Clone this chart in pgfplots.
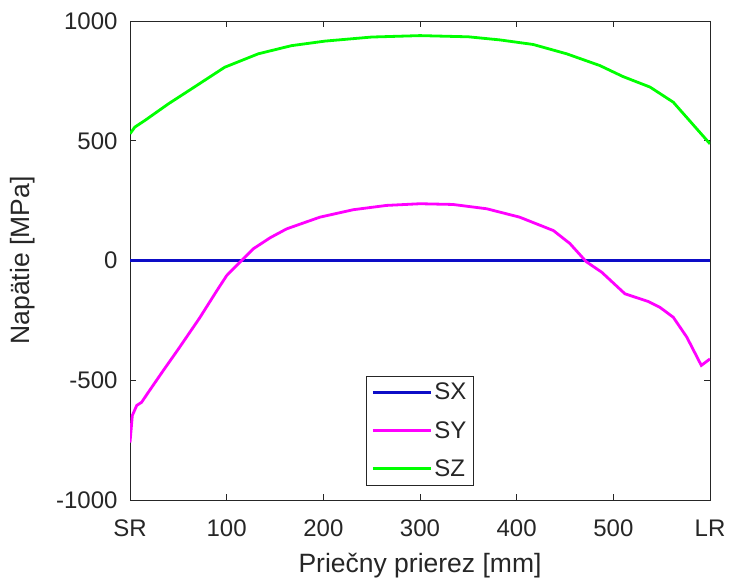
\documentclass[border=0pt]{standalone}
\usepackage{pgfplots}
\pgfplotsset{compat=1.18}
\usepackage{fontspec}
\setmainfont{Liberation Sans}
\definecolor{axgray}{rgb}{0.15,0.15,0.15}
\definecolor{sxblue}{rgb}{0.05,0.05,0.78}
\definecolor{symag}{rgb}{1,0,1}
\definecolor{szgreen}{rgb}{0,1,0}
\newcommand{\legfont}{\fontsize{24}{27}\selectfont}
\begin{document}
\begin{tikzpicture}[x=1pt,y=1pt]
\path[use as bounding box] (0,0) rectangle (730,586);
\begin{axis}[
  at={(130pt,86pt)}, anchor=south west,
  scale only axis, width=580pt, height=479pt,
  xmin=0, xmax=600, ymin=-1000, ymax=1000,
  xtick={0,100,...,600}, xticklabels={SR,100,200,300,400,500,LR},
  ytick={-1000,-500,0,500,1000},
  tick align=inside, xtick pos=both, ytick pos=both,
  major tick length=6pt,
  axis line style={axgray, line width=0.8pt},
  tick style={axgray, line width=0.8pt},
  ticklabel style={font=\fontsize{24}{28}\selectfont, text=axgray},
  yticklabel style={xshift=-9pt},
  xticklabel style={yshift=-16pt},
  /pgf/number format/assume math mode=true,
  /pgf/number format/set thousands separator={},
  xlabel={Priečny prierez [mm]}, ylabel={Napätie [MPa]},
  label style={font=\fontsize{26.5}{30}\selectfont, text=axgray},
  xlabel shift=10pt, ylabel shift=14pt,
  legend style={at={(0.5,0.031)}, anchor=south, draw=axgray, line width=0.6pt,
    font=\legfont, text=axgray, row sep=16pt, column sep=0pt,
    inner xsep=5pt, inner ysep=5pt},
  legend cell align=left,
  legend image code/.code={\draw[#1, line width=2.8pt] (0pt,0pt) -- (58pt,0pt);},
]
\addplot[sxblue, line width=2.8pt] coordinates {(0,0) (600,0)};
\addlegendentry{\legfont SX}
\addplot[symag, line width=2.8pt] coordinates {
(0,-760) (2.4,-647) (7,-605) (12,-592) (19,-550) (34.5,-459) (50,-370) (72,-240)
(90,-125) (100,-63) (105,-42) (113.8,-7) (127.6,49) (145,95) (162,132) (196.5,181)
(230.9,212) (265.5,230) (300,237) (334,234) (369,216) (403,181) (438,125) (455,71)
(472,-5) (488,-49) (512,-139) (536,-171) (548,-195) (562,-237) (576,-320) (591,-438) (600,-411)};
\addlegendentry{\legfont SY}
\addplot[szgreen, line width=2.8pt] coordinates {
(0,529) (5,557) (15.5,585) (39.7,654) (63.8,717) (98,807) (132.7,863) (167,897)
(201.7,916) (250,933) (300,939) (350,934) (382.7,921) (417,902) (451.7,863) (486,814)
(510,768) (538,724) (562,661) (600,487)};
\addlegendentry{\legfont SZ}
\end{axis}
\end{tikzpicture}
\end{document}
